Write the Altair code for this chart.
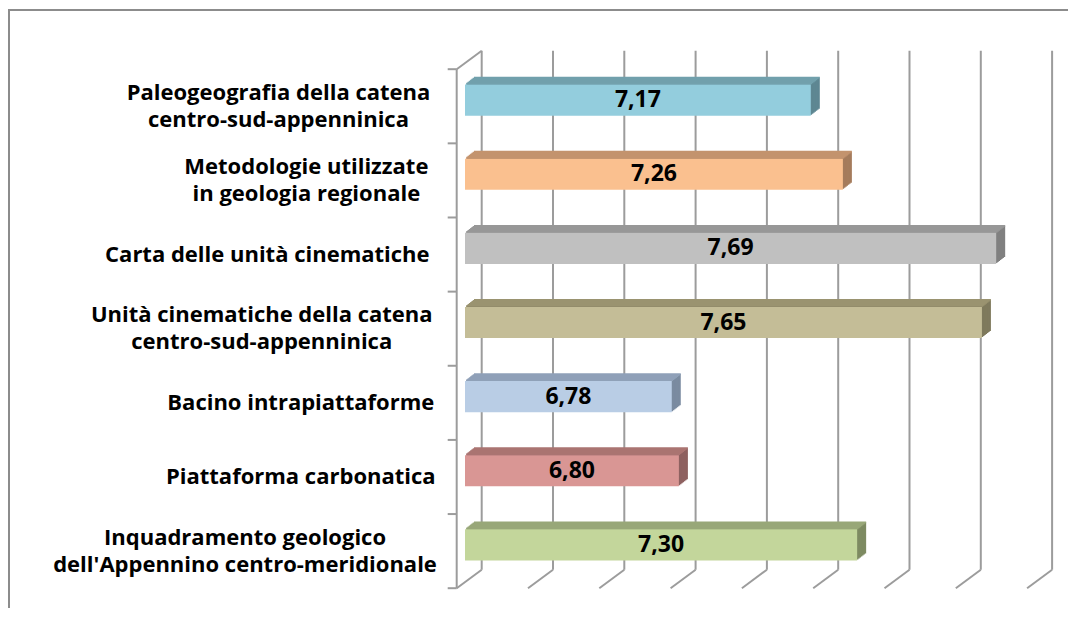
import altair as alt
import pandas as pd

# ---------------- data ----------------
categories = [
    "Paleogeografia della catena\ncentro-sud-appenninica",
    "Metodologie utilizzate\nin geologia regionale",
    "Carta delle unità cinematiche",
    "Unità cinematiche della catena\ncentro-sud-appenninica",
    "Bacino intrapiattaforme",
    "Piattaforma carbonatica",
    "Inquadramento geologico\ndell'Appennino centro-meridionale",
]
values = [7.17, 7.26, 7.69, 7.65, 6.78, 6.80, 7.30]
value_labels = ["7,17", "7,26", "7,69", "7,65", "6,78", "6,80", "7,30"]
grid_values = [6.2, 6.4, 6.6, 6.8, 7.0, 7.2, 7.4, 7.6, 7.8]

# ---------------- styles ----------------
front_colors = ["#93CDDD", "#FAC08F", "#C0C0C0", "#C4BD97", "#B9CDE5", "#D99694", "#C3D69B"]
top_colors = ["#72A1AD", "#C3936E", "#979797", "#9A9370", "#8FA1B8", "#AA7472", "#98A778"]
side_colors = ["#5E8792", "#A57C5C", "#808080", "#7F7A5D", "#7A8BA0", "#8E6160", "#7E8B62"]
GRID = "#9C9C9C"
FRAME = "#8C8C8C"
FONT = "Open Sans"
LABEL_SIZE = 22
VALUE_SIZE = 23
LINE_H = 27
CHAR_W = 11.15         # average label glyph width used to centre multi-line labels
LABEL_RIGHT = 421      # right edge of the category-label block (px)

# geometry of the pseudo-3D box
X_MIN, X_MAX = 6.2, 7.8
PPU = 356.5            # px per unit on the bar plane
BAR_X0 = 457.0
Y_LO, Y_HI = -0.5, 6.5
Y_PX = [55, 574]
BX, BY = 16.7, -12.3   # bar plane -> back wall
FX, FY = -8.3, 6.2     # bar plane -> front edge
DX, DY = 9.0, -7.0     # bar depth
HALF = 0.21            # half bar thickness (in category units)
N = 7

W, H = 1060, 600

xs = alt.Scale(domain=[X_MIN, X_MAX], range=[BAR_X0, BAR_X0 + (X_MAX - X_MIN) * PPU],
               zero=False, nice=False)
ys = alt.Scale(domain=[Y_LO, Y_HI], range=Y_PX, zero=False, nice=False)
STEP = (Y_PX[1] - Y_PX[0]) / (Y_HI - Y_LO)

n = len(categories)
df = pd.DataFrame({
    "cat": categories,
    "idx": list(range(n)),
    "value": values,
    "vlabel": value_labels,
    "front_c": front_colors,
    "top_c": top_colors,
    "side_c": side_colors,
})
df["base"] = X_MIN
df["y0"] = df["idx"] - HALF
df["y1"] = df["idx"] + HALF
df["mid"] = (df["value"] + X_MIN) / 2
df["nlines"] = df["cat"].apply(lambda s: len(s.split("\n")))
df["maxlen"] = df["cat"].apply(lambda s: max(len(t) for t in s.split("\n")))
df["lx"] = X_MIN + (LABEL_RIGHT - df["maxlen"] * CHAR_W / 2 - BAR_X0) / PPU
df["ly"] = df["idx"] - (df["nlines"] - 1) * LINE_H / 2 / STEP

grid_df = pd.DataFrame({"g": grid_values})
grid_df["ylo"] = Y_LO
grid_df["yhi"] = Y_HI
wall_df = pd.DataFrame({"g": [X_MIN], "ylo": [Y_LO], "yhi": [Y_HI]})
tick_df = pd.DataFrame({"b": [Y_LO + i for i in range(n + 1)]})
tick_df["g"] = X_MIN

X = lambda f: alt.X(f, scale=xs, axis=None)
Y = lambda f: alt.Y(f, scale=ys, axis=None)

layers = []

# frame (left and top border)
one = pd.DataFrame({"a": [0]})
layers.append(alt.Chart(one).mark_rule(color=FRAME, strokeWidth=2).encode(
    x=alt.value(1), y=alt.value(2), y2=alt.value(H)))
layers.append(alt.Chart(one).mark_rule(color=FRAME, strokeWidth=2).encode(
    x=alt.value(0), x2=alt.value(W), y=alt.value(2)))

# back wall gridlines
layers.append(alt.Chart(grid_df).mark_rule(
    color=GRID, strokeWidth=2, xOffset=BX, x2Offset=BX, yOffset=BY, y2Offset=BY
).encode(x=X("g:Q"), x2="g:Q", y=Y("ylo:Q"), y2="yhi:Q"))
# floor gridlines (slanted)
layers.append(alt.Chart(grid_df).mark_rule(
    color=GRID, strokeWidth=2, xOffset=BX, x2Offset=FX, yOffset=BY, y2Offset=FY
).encode(x=X("g:Q"), x2="g:Q", y=Y("yhi:Q"), y2="yhi:Q"))
# left wall: front vertical edge and top slanted edge
layers.append(alt.Chart(wall_df).mark_rule(
    color=GRID, strokeWidth=2, xOffset=FX, x2Offset=FX, yOffset=FY, y2Offset=FY
).encode(x=X("g:Q"), x2="g:Q", y=Y("ylo:Q"), y2="yhi:Q"))
layers.append(alt.Chart(wall_df).mark_rule(
    color=GRID, strokeWidth=2, xOffset=FX, x2Offset=BX, yOffset=FY, y2Offset=BY
).encode(x=X("g:Q"), x2="g:Q", y=Y("ylo:Q"), y2="ylo:Q"))
# category ticks
layers.append(alt.Chart(tick_df).mark_rule(
    color=GRID, strokeWidth=2, xOffset=FX - 9, x2Offset=FX, yOffset=FY, y2Offset=FY
).encode(x=X("g:Q"), x2="g:Q", y=Y("b:Q"), y2="b:Q"))

# bar extrusion: side colour
for k in range(N, 0, -1):
    ox, oy = k * DX / N, k * DY / N
    layers.append(alt.Chart(df).mark_rect(
        xOffset=ox, x2Offset=ox, yOffset=oy, y2Offset=oy
    ).encode(x=X("value:Q"), x2="base:Q", y=Y("y0:Q"), y2="y1:Q",
             color=alt.Color("side_c:N", scale=None)))
# bar extrusion: top face
for k in range(N, 0, -1):
    ox, oy = k * DX / N, k * DY / N
    layers.append(alt.Chart(df).mark_rule(
        strokeWidth=1.7, xOffset=ox, x2Offset=ox, yOffset=oy, y2Offset=oy
    ).encode(x=X("value:Q"), x2="base:Q", y=Y("y0:Q"), y2="y0:Q",
             color=alt.Color("top_c:N", scale=None)))
# bar front faces
layers.append(alt.Chart(df).mark_rect().encode(
    x=X("value:Q"), x2="base:Q", y=Y("y0:Q"), y2="y1:Q",
    color=alt.Color("front_c:N", scale=None)))

# value labels
layers.append(alt.Chart(df).mark_text(
    font=FONT, fontSize=VALUE_SIZE, fontWeight="bold", color="#000000"
).encode(x=X("mid:Q"), y=Y("idx:Q"), text="vlabel:N"))

# category labels (multi-line, centred lines, right-aligned block)
layers.append(alt.Chart(df).transform_calculate(
    lines="split(datum.cat, '\\n')"
).mark_text(
    font=FONT, fontSize=LABEL_SIZE, fontWeight="bold", color="#000000",
    align="center", baseline="middle", lineHeight=LINE_H, yOffset=FY
).encode(x=X("lx:Q"), y=Y("ly:Q"), text="lines:N"))

chart = alt.layer(*layers).properties(
    width=W, height=H,
    autosize=alt.AutoSizeParams(type="none"),
    padding=0,
    background="#FFFFFF",
).configure_view(stroke=None)

chart.save("out.html", embed_options={"renderer": "svg", "actions": False})
